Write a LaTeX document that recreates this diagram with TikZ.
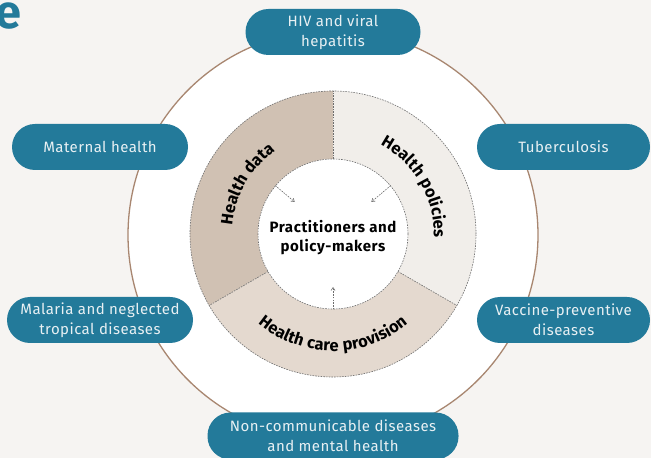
\documentclass[tikz,border=0pt]{standalone}
\usepackage{fontspec}
\setmainfont{Fira Sans}
\newfontfamily\boxfont{Fira Sans}[LetterSpace=3]
\newfontfamily\keyfont{Fira Sans}[LetterSpace=4]
\usetikzlibrary{arrows.meta,decorations.text}

\definecolor{pagebg}{HTML}{F6F4F2}
\definecolor{ringbrown}{HTML}{A88670}
\definecolor{datatan}{HTML}{D0C1B3}
\definecolor{policycream}{HTML}{F1EEEA}
\definecolor{carebeige}{HTML}{E4D9CF}
\definecolor{boxteal}{HTML}{237A9A}
\definecolor{boxtext}{HTML}{E8F0F3}
\definecolor{seamgray}{HTML}{6E6E6E}

\begin{document}
\begin{tikzpicture}[x=1pt,y=1pt,
            topic/.style={rectangle,rounded corners=23pt,fill=boxteal,text=boxtext,
              minimum height=46pt,align=center,inner sep=2pt,
              font=\boxfont\fontsize{15}{20}\selectfont},
            seam/.style={draw=seamgray,line width=0.6pt,dash pattern=on 1.6pt off 1.1pt},
            feed/.style={seam,-{Straight Barb[length=3pt,width=4pt]}},
            ringlabel/.style={decorate,decoration={text along path,text align=center,
              text={|\keyfont\bfseries\fontsize{16.5}{17}\selectfont|#1}}}]
  \useasboundingbox (0,0) rectangle (651,458);
  \fill[pagebg] (0,0) rectangle (651,458);

  % heading letter, cut by the page edge
  \node[anchor=base east,inner sep=0pt,text=boxteal,font=\bfseries\fontsize{47}{47}\selectfont]
    (heading) at (22,429) {e};

  % outer ring
  \draw[ringbrown,line width=1.3pt,fill=white] (333,223) circle (205);

  \begin{scope}[shift={(333,224)}]
    \fill[datatan] (90:143) arc[start angle=90,end angle=210,radius=143]
      -- (210:75) arc[start angle=210,end angle=90,radius=75] -- cycle;
    \fill[policycream] (-30:143) arc[start angle=-30,end angle=90,radius=143]
      -- (90:75) arc[start angle=90,end angle=-30,radius=75] -- cycle;
    \fill[carebeige] (210:143) arc[start angle=210,end angle=330,radius=143]
      -- (330:75) arc[start angle=330,end angle=210,radius=75] -- cycle;
    \draw[seam] (0,0) circle (143);
    \foreach \a in {90,210,330}
      \draw[seam] (\a:75) -- (\a:143);
    % labels along the ring
    \path[ringlabel={Health data}] (210:101) arc[start angle=210,end angle=90,radius=101];
    \path[ringlabel={Health policies}] (90:101) arc[start angle=90,end angle=-30,radius=101];
    \path[ringlabel={Health care provision}] (210:117) arc[start angle=210,end angle=330,radius=117];
  \end{scope}

  \node[circle,seam,fill=white,minimum size=150pt,inner sep=0pt] (core) at (333,224) {};
  \node[align=center,font=\keyfont\bfseries\fontsize{15}{19}\selectfont] (who) at (333,220)
    {Practitioners and\\policy-makers};

  \coordinate (inA) at (294.7,256.1);
  \coordinate (inB) at (371.3,256.1);
  \coordinate (inC) at (333,171);
  \draw[feed] (core.140) -- (inA);
  \draw[feed] (core.40) -- (inB);
  \draw[feed] (core.270) -- (inC);

  % topics round the ring
  \node[topic,minimum width=175pt] (hiv) at (333,426) {HIV and viral\\hepatitis};
  \node[topic,minimum width=176pt] (maternal) at (100,311) {Maternal health};
  \node[topic,minimum width=173pt] (tb) at (563.5,311) {Tuberculosis};
  \node[topic,minimum width=186pt] (malaria) at (100,138) {Malaria and neglected\\tropical diseases};
  \node[topic,minimum width=173pt] (vaccine) at (563.5,138) {Vaccine-preventive\\diseases};
  \node[topic,minimum width=251pt,minimum height=47pt] (ncd) at (333,22)
    {Non-communicable diseases\\and mental health};
\end{tikzpicture}
\end{document}
